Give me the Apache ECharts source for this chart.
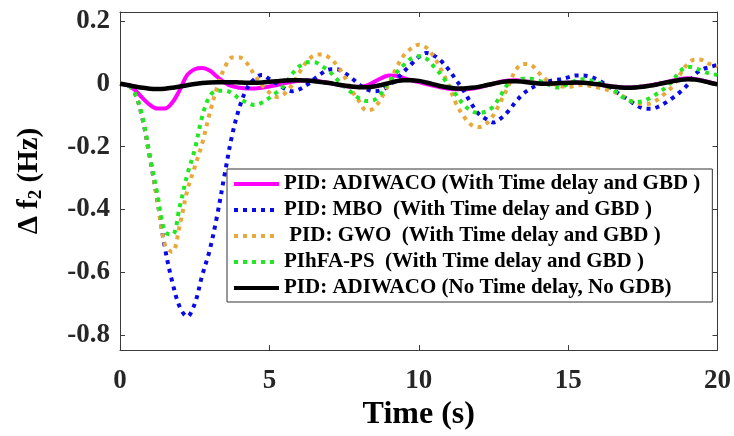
<!DOCTYPE html>
<html><head><meta charset="utf-8">
<script src="https://cdn.jsdelivr.net/npm/echarts@6/dist/echarts.min.js"></script>
<style>html,body{margin:0;padding:0;background:#fff}#c{width:734px;height:436px}</style>
</head><body><div id="c"></div>
<script>
// time samples (s)
const time = [
  0,0.25,0.5,0.75, 1,1.25,1.5,1.75, 2,2.25,2.5,2.75, 3,3.25,3.5,3.75, 4,4.25,4.5,4.75,
  5,5.25,5.5,5.75, 6,6.25,6.5,6.75, 7,7.25,7.5,7.75, 8,8.25,8.5,8.75, 9,9.25,9.5,9.75,
  10,10.25,10.5,10.75, 11,11.25,11.5,11.75, 12,12.25,12.5,12.75, 13,13.25,13.5,13.75, 14,14.25,14.5,14.75,
  15,15.25,15.5,15.75, 16,16.25,16.5,16.75, 17,17.25,17.5,17.75, 18,18.25,18.5,18.75, 19,19.25,19.5,19.75,
  20
];
const seriesNames = [
  'PID: ADIWACO (With Time delay and GBD )',
  'PID: MBO  (With Time delay and GBD )',
  ' PID: GWO  (With Time delay and GBD )',
  'PIhFA-PS  (With Time delay and GBD )',
  'PID: ADIWACO (No Time delay, No GDB)'
];
const adiwacoDelay = [
  0,-0.005,-0.02,-0.045, -0.067,-0.079,-0.079,-0.06, -0.02,0.028,0.046,0.05, 0.042,0.022,0.004,-0.008,
  -0.013,-0.015,-0.015,-0.013, -0.009,-0.004,0.001,0.006, 0.009,0.010,0.009,0.006, 0.002,-0.003,-0.007,-0.010,
  -0.010,-0.006,0.005,0.018, 0.026,0.025,0.018,0.011, 0.005,-0.001,-0.007,-0.012, -0.016,-0.018,-0.018,-0.016,
  -0.012,-0.006,0.000,0.006, 0.010,0.011,0.009,0.005, 0.002,0.000,0.000,0.002, 0.003,0.004,0.003,0.001,
  -0.002,-0.006,-0.009,-0.011, -0.012,-0.011,-0.009,-0.005, -0.001,0.004,0.010,0.015, 0.017,0.015,0.010,0.004,
  -0.001
];
const mboDelay = [
  0,-0.004,-0.03,-0.11, -0.235,-0.37,-0.52,-0.63, -0.71,-0.74,-0.70,-0.61, -0.53,-0.42,-0.29,-0.165,
  -0.075,-0.015,0.015,0.028, 0.015,0.0,-0.015,-0.024, -0.018,-0.004,0.015,0.033, 0.045,0.046,0.035,0.018,
  -0.002,-0.018,-0.024,-0.02, -0.006,0.015,0.038,0.062, 0.085,0.098,0.09,0.072, 0.045,0.012,-0.022,-0.062,
  -0.095,-0.112,-0.123,-0.11, -0.087,-0.057,-0.032,-0.015, -0.004,0.006,0.011,0.014, 0.02,0.026,0.026,0.022,
  0.012,-0.002,-0.018,-0.035, -0.05,-0.066,-0.078,-0.08, -0.074,-0.061,-0.045,-0.026, -0.003,0.03,0.046,0.053,
  0.06
];
const gwoDelay = [
  0,-0.004,-0.03,-0.11, -0.235,-0.37,-0.51,-0.535, -0.45,-0.34,-0.265,-0.19, -0.095,-0.012,0.05,0.083,
  0.083,0.065,0.028,-0.004, -0.028,-0.042,-0.032,-0.005, 0.035,0.07,0.09,0.093, 0.083,0.06,0.025,-0.02,
  -0.055,-0.085,-0.078,-0.045, 0.0,0.05,0.09,0.112, 0.124,0.115,0.086,0.045, -0.005,-0.063,-0.103,-0.13,
  -0.138,-0.128,-0.1,-0.055, -0.008,0.044,0.063,0.06, 0.036,0.014,0.0,-0.008, -0.01,-0.006,-0.004,-0.007,
  -0.012,-0.018,-0.025,-0.035, -0.05,-0.06,-0.065,-0.063, -0.05,-0.03,-0.008,0.03, 0.063,0.077,0.075,0.062,
  0.055
];
const pihfaDelay = [
  0,-0.004,-0.03,-0.105, -0.23,-0.35,-0.47,-0.48, -0.39,-0.29,-0.21,-0.105, -0.04,-0.022,-0.022,-0.03,
  -0.048,-0.06,-0.068,-0.06, -0.045,-0.027,-0.005,0.03, 0.055,0.068,0.068,0.056, 0.04,0.015,-0.008,-0.028,
  -0.046,-0.055,-0.052,-0.03, 0.005,0.035,0.06,0.08, 0.087,0.08,0.055,0.028, -0.005,-0.035,-0.066,-0.086,
  -0.093,-0.088,-0.072,-0.036, 0.0,0.01,0.016,0.016, 0.01,0.002,-0.01,-0.012, 0.0,0.01,0.014,0.01,
  0.004,-0.004,-0.018,-0.038, -0.052,-0.058,-0.056,-0.045, -0.03,-0.013,0.01,0.04, 0.054,0.05,0.04,0.032,
  0.028
];
const adiwacoNoDelay = [
  0,-0.004,-0.009,-0.013, -0.016,-0.017,-0.016,-0.013, -0.009,-0.005,-0.001,0.002, 0.004,0.005,0.005,0.005,
  0.004,0.003,0.003,0.004, 0.006,0.008,0.010,0.011, 0.011,0.010,0.008,0.005, 0.002,-0.002,-0.006,-0.009,
  -0.011,-0.011,-0.009,-0.004, 0.002,0.008,0.011,0.011, 0.009,0.004,-0.002,-0.008, -0.012,-0.015,-0.015,-0.013,
  -0.010,-0.005,0.000,0.005, 0.008,0.008,0.006,0.003, 0.001,0.000,0.001,0.002, 0.003,0.004,0.003,0.001,
  -0.002,-0.006,-0.010,-0.012, -0.013,-0.012,-0.010,-0.006, -0.002,0.003,0.008,0.012, 0.014,0.013,0.009,0.003,
  -0.002
];
const xTicks = [0, 5, 10, 15, 20];
const yTicks = [-0.8, -0.6, -0.4, -0.2, 0, 0.2];

const FONT = '"Liberation Serif","Times New Roman",Times,serif';
const AX = '#3a3a3a';
function pairs(vals) { return time.map((t, i) => [t, vals[i]]); }
function fmtY(v) { return Math.abs(v) < 1e-9 ? '0' : v.toFixed(1); }

const styles = [
  { color: '#ff00ff', type: 'solid', width: 4 },
  { color: '#0a0ae6', type: [4, 5], width: 4 },
  { color: '#e8a93a', type: [4, 5], width: 4 },
  { color: '#22e822', type: [4, 5], width: 4 },
  { color: '#000000', type: 'solid', width: 4.5 }
];
const values = [adiwacoDelay, mboDelay, gwoDelay, pihfaDelay, adiwacoNoDelay];

const chart = echarts.init(document.getElementById('c'), null, { renderer: 'canvas' });
const tickLabel = { fontFamily: FONT, fontWeight: 'bold', fontSize: 27, color: '#262626' };

chart.setOption({
  animation: false,
  backgroundColor: '#fff',
  grid: { left: 120, right: 15, top: 12, bottom: 82, show: false },
  legend: {
    orient: 'vertical', left: 227, top: 169,
    padding: [4, 12, 3, 5], itemGap: 4, itemWidth: 45, itemHeight: 14,
    backgroundColor: '#fff', borderColor: '#333', borderWidth: 1, borderRadius: 0,
    itemStyle: { opacity: 0 },
    lineStyle: { width: 4, cap: 'butt' },
    textStyle: { fontFamily: FONT, fontWeight: 'bold', fontSize: 21, color: '#000', lineHeight: 22 },
    data: seriesNames
  },
  xAxis: [{
    type: 'value', min: 0, max: 20, interval: 5, position: 'bottom',
    axisLine: { show: true, onZero: false, lineStyle: { color: AX, width: 1 } },
    axisTick: { show: true, inside: true, length: 5, lineStyle: { color: AX } },
    axisLabel: Object.assign({ margin: 17, customValues: xTicks }, tickLabel),
    splitLine: { show: false },
    name: 'Time (s)', nameLocation: 'middle', nameGap: 48,
    nameTextStyle: { fontFamily: FONT, fontWeight: 'bold', fontSize: 32, color: '#000' }
  }, {
    type: 'value', min: 0, max: 20, interval: 5, position: 'top',
    axisLine: { show: true, onZero: false, lineStyle: { color: AX, width: 1 } },
    axisTick: { show: true, inside: true, length: 5, lineStyle: { color: AX } },
    axisLabel: { show: false }, splitLine: { show: false }
  }],
  yAxis: [{
    type: 'value', min: -0.847, max: 0.228, position: 'left',
    axisLine: { show: true, onZero: false, lineStyle: { color: AX, width: 1 } },
    axisTick: { show: true, inside: true, length: 5, customValues: yTicks, lineStyle: { color: AX } },
    axisLabel: Object.assign({ margin: 10, customValues: yTicks, formatter: fmtY }, tickLabel),
    splitLine: { show: false },
    name: '{a|Δ f}{s|2}{a| (Hz)}', nameLocation: 'middle', nameGap: 74,
    nameTextStyle: {
      rich: {
        a: { fontFamily: FONT, fontWeight: 'bold', fontSize: 29, color: '#000' },
        s: { fontFamily: FONT, fontWeight: 'bold', fontSize: 19, color: '#000', padding: [14, 0, 0, 0] }
      }
    }
  }, {
    type: 'value', min: -0.847, max: 0.228, position: 'right',
    axisLine: { show: true, onZero: false, lineStyle: { color: AX, width: 1 } },
    axisTick: { show: true, inside: true, length: 5, customValues: yTicks, lineStyle: { color: AX } },
    axisLabel: { show: false }, splitLine: { show: false }
  }],
  series: seriesNames.map((n, i) => ({
    name: n, type: 'line', xAxisIndex: 0, yAxisIndex: 0,
    data: pairs(values[i]), smooth: 0.35, symbol: 'none', z: 2 + i,
    lineStyle: { color: styles[i].color, type: styles[i].type, width: styles[i].width, cap: 'butt' },
    itemStyle: { color: styles[i].color }
  }))
});
</script></body></html>
